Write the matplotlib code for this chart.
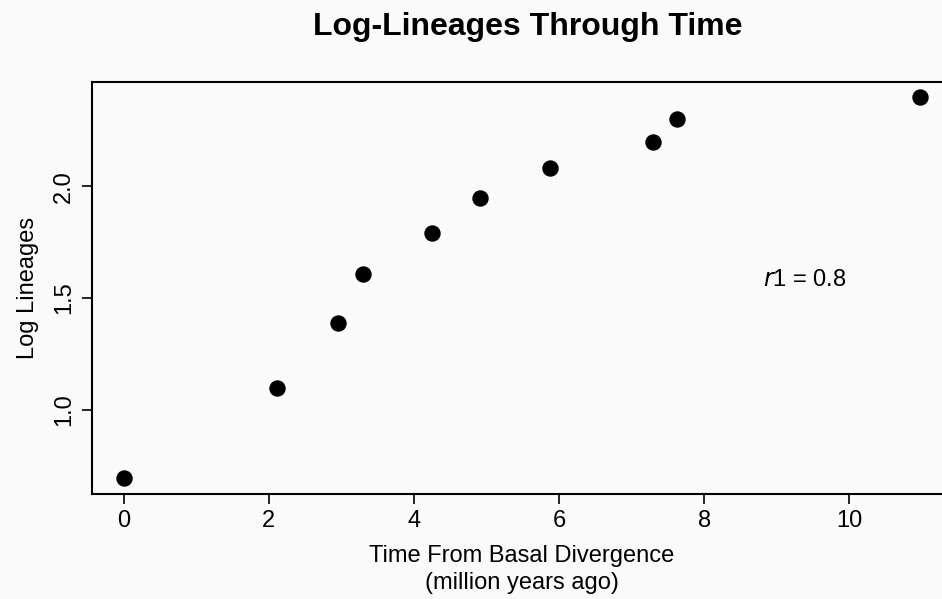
import numpy as np
import matplotlib
matplotlib.use('Agg')
import matplotlib.pyplot as plt

plt.rcParams['font.family'] = ['Liberation Sans', 'DejaVu Sans']

# time from basal divergence (Mya) and log lineages
time_mya = [0.0, 2.12, 2.96, 3.30, 4.25, 4.91, 5.87, 7.29, 7.62, 10.97]
lineages = [2, 3, 4, 5, 6, 7, 8, 9, 10, 11]
log_lin = np.log(lineages)

x_ticks = [0, 2, 4, 6, 8, 10]
y_ticks = [1.0, 1.5, 2.0]

fig = plt.figure(figsize=(9.42, 5.99), dpi=100, facecolor='#fafafa')
ax = fig.add_axes([0.0973, 0.176, 0.913, 0.687])
ax.set_facecolor('#fafafa')

ax.plot(time_mya, log_lin, 'o', color='black', markersize=10.8)

# R style 4% padding
xr = max(time_mya) - min(time_mya)
yr = log_lin.max() - log_lin.min()
ax.set_xlim(min(time_mya) - 0.04 * xr, max(time_mya) + 0.04 * xr)
ax.set_ylim(log_lin.min() - 0.04 * yr, log_lin.max() + 0.04 * yr)

ax.set_xticks(x_ticks)
ax.set_yticks(y_ticks)
ax.set_yticklabels(['1.0', '1.5', '2.0'], rotation=90, va='center')
ax.tick_params(labelsize=17, length=7, width=1.2, pad=5)
for s in ax.spines.values():
    s.set_linewidth(1.5)

ax.text(9.39, 1.58, r'$r$1 = 0.8', fontsize=17, ha='center', va='center')

ax.set_xlabel('Time From Basal Divergence\n(million years ago)', fontsize=17, labelpad=9, linespacing=1.3)
ax.set_ylabel('Log Lineages', fontsize=17, labelpad=10)
fig.text(0.56, 0.955, 'Log-Lineages Through Time', fontsize=23, fontweight='bold', ha='center', va='center')

fig.savefig('out.png', dpi=100, facecolor=fig.get_facecolor())
